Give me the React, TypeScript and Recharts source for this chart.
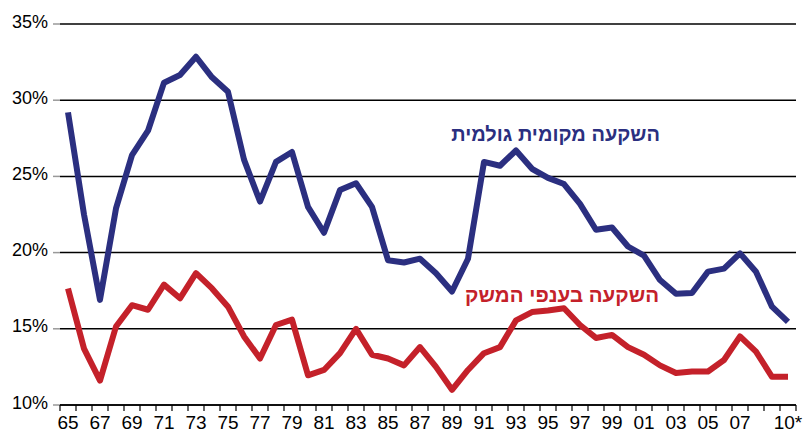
import React from 'react';
import { LineChart, Line, XAxis, YAxis, CartesianGrid, Customized } from 'recharts';

const years = ['65','66','67','68','69','70','71','72','73','74','75','76','77','78','79','80','81','82','83','84','85','86','87','88','89','90','91','92','93','94','95','96','97','98','99','00','01','02','03','04','05','06','07','08','09','10*'];
const grossDomestic = [29.2,22.5,16.9,22.9,26.4,28.0,31.15,31.65,32.85,31.5,30.55,26.1,23.35,25.95,26.6,23.0,21.3,24.1,24.55,23.0,19.5,19.35,19.6,18.65,17.45,19.6,25.95,25.7,26.7,25.5,24.9,24.5,23.2,21.5,21.65,20.4,19.8,18.2,17.3,17.35,18.75,18.95,19.95,18.75,16.45,15.45];
const businessSector = [17.65,13.7,11.6,15.15,16.55,16.25,17.9,17.0,18.65,17.65,16.45,14.5,13.05,15.25,15.6,11.95,12.3,13.4,15.0,13.3,13.05,12.6,13.8,12.5,11.0,12.3,13.4,13.8,15.55,16.1,16.2,16.35,15.25,14.4,14.6,13.8,13.3,12.6,12.1,12.2,12.2,12.95,14.5,13.5,11.85,11.85];
const yTicks = [10, 15, 20, 25, 30, 35];
const shownLabels = ['65','67','69','71','73','75','77','79','81','83','85','87','89','91','93','95','97','99','01','03','05','07','10*'];
const seriesNames = ['השקעה מקומית גולמית', 'השקעה בענפי המשק'];

const data = years.map((y, i) => ({ year: y, gross: grossDomestic[i], business: businessSector[i] }));

const WIDTH = 806;
const HEIGHT = 433;
const Y_AXIS_W = 60;
const RIGHT = 10;
const HALF_BAND = (WIDTH - Y_AXIS_W - RIGHT) / years.length / 2;
const FONT = '"Liberation Sans", Arial, Helvetica, sans-serif';
const BLUE = '#2B2F80';
const RED = '#C4212A';

const XTick = (props: any) => {
  const { x, y, payload, index } = props;
  const label = payload.value as string;
  const isLast = index === years.length - 1;
  return (
    <g>
      <line x1={x - HALF_BAND} x2={x - HALF_BAND} y1={y} y2={y + 6} stroke="#000" strokeWidth={1.2} />
      {isLast && <line x1={x + HALF_BAND} x2={x + HALF_BAND} y1={y} y2={y + 6} stroke="#000" strokeWidth={1.2} />}
      {shownLabels.includes(label) && (
        <text x={x} y={y + 24} textAnchor="middle" fontFamily={FONT} fontSize={19} fill="#000">{label}</text>
      )}
    </g>
  );
};

const YTick = (props: any) => {
  const { x, y, payload } = props;
  return (
    <text x={x} y={y} dy={3.5} textAnchor="end" fontFamily={FONT} fontSize={18} fill="#000">{payload.value}%</text>
  );
};

const Labels = () => (
  <g>
    <text x={660} y={141} textAnchor="end" fontFamily={FONT} fontSize={20} fontWeight="bold" fill={BLUE}>{seriesNames[0]}</text>
    <text x={659} y={302} textAnchor="end" fontFamily={FONT} fontSize={20.5} fontWeight="bold" fill={RED}>{seriesNames[1]}</text>
  </g>
);

export default function App() {
  return (
    <div style={{ position: 'absolute', left: 0, top: 0, width: WIDTH, height: HEIGHT, background: '#fff' }}>
      <LineChart width={WIDTH} height={HEIGHT} data={data} margin={{ top: 24, right: RIGHT, bottom: 0, left: 0 }}>
        <CartesianGrid vertical={false} stroke="#000" strokeWidth={1.5} />
        <XAxis dataKey="year" interval={0} padding={{ left: HALF_BAND, right: HALF_BAND }} tickLine={false} tickSize={0} tickMargin={0} height={28} axisLine={{ stroke: '#000', strokeWidth: 1.5 }} tick={<XTick />} />
        <YAxis domain={[10, 35]} ticks={yTicks} width={Y_AXIS_W} axisLine={false} tickLine={{ stroke: '#999', strokeWidth: 1.5 }} tickSize={7} tickMargin={5} tick={<YTick />} />
        <Line dataKey="gross" stroke={BLUE} strokeWidth={6} dot={false} isAnimationActive={false} strokeLinejoin="round" />
        <Line dataKey="business" stroke={RED} strokeWidth={6} dot={false} isAnimationActive={false} strokeLinejoin="round" />
        <Customized component={Labels} />
      </LineChart>
    </div>
  );
}
